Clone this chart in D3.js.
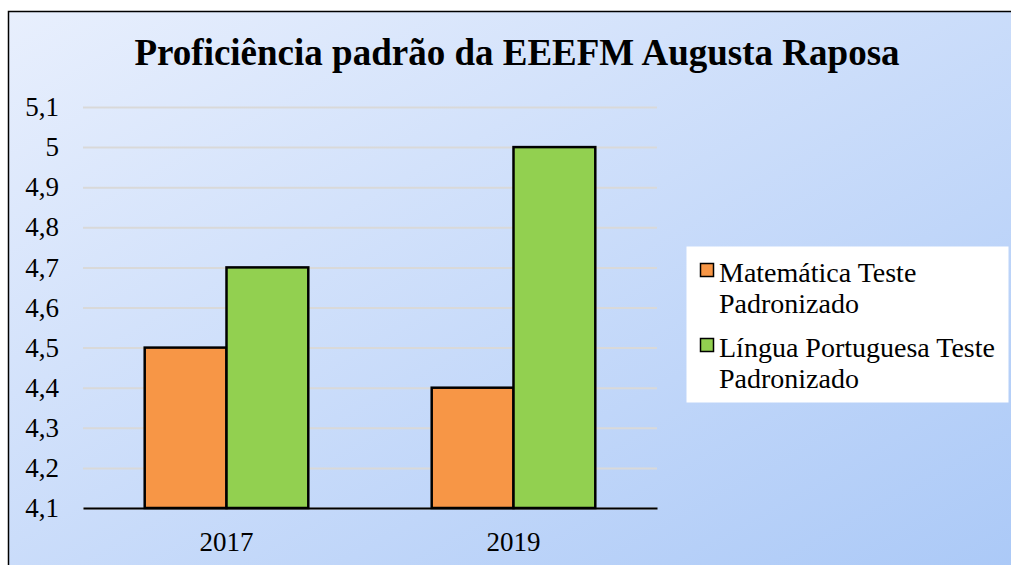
<!DOCTYPE html>
<html lang="pt">
<head>
    <meta charset="UTF-8">
    <title>Proficiência padrão</title>
    <script src="https://cdn.jsdelivr.net/npm/d3@7"></script>
    <style>
        body { margin: 0; }
        svg { display: block; }
        text { font-family: 'Liberation Serif', 'Times New Roman', serif; }
    </style>
</head>
<body>
<svg width="1011" height="565"></svg>
<script>
    // dados
    var anos = ["2017", "2019"];
    var series = ["Matemática Teste Padronizado", "Língua Portuguesa Teste Padronizado"];
    var matematica = [4.5, 4.4];
    var portugues = [4.7, 5.0];
    var yTicks = [4.1, 4.2, 4.3, 4.4, 4.5, 4.6, 4.7, 4.8, 4.9, 5.0, 5.1];
    var cores = ["#f79646", "#92d050"];

    var serif = "'Liberation Serif', 'Times New Roman', serif";
    var svg = d3.select("svg"), width = +svg.attr("width"), height = +svg.attr("height");

    // fundo com gradiente
    var grad = svg.append("defs").append("linearGradient")
        .attr("id", "bg").attr("x1", "0%").attr("y1", "0%").attr("x2", "100%").attr("y2", "100%");
    grad.append("stop").attr("offset", "0%").attr("stop-color", "#e8effd");
    grad.append("stop").attr("offset", "100%").attr("stop-color", "#abc9f7");

    svg.append("rect").attr("width", width).attr("height", height).attr("fill", "#fff");
    svg.append("rect")
        .attr("x", 8.5).attr("y", 11.5)
        .attr("width", 1010).attr("height", 560)
        .attr("fill", "url(#bg)")
        .attr("stroke", "#000").attr("stroke-width", 1.5);

    svg.append("text")
        .attr("x", 517).attr("y", 65)
        .attr("text-anchor", "middle")
        .style("font-size", "37px").style("font-weight", "bold").style("font-family", serif)
        .text("Proficiência padrão da EEEFM Augusta Raposa");

    var marge = {left: 83, right: 657, top: 107, bottom: 508};

    var x0 = d3.scaleBand().domain(anos).range([marge.left, marge.right]).paddingInner(0.43).paddingOuter(0.215);
    var x1 = d3.scaleBand().domain([0, 1]).range([0, x0.bandwidth()]);
    var y = d3.scaleLinear().domain([4.1, 5.1]).range([marge.bottom, marge.top]);

    var fmt = function (d) { return d3.format(".1~f")(d).replace(".", ","); };

    // grade
    var yAxis = d3.axisLeft(y).tickValues(yTicks).tickSize(-(marge.right - marge.left)).tickFormat(fmt).tickPadding(24);
    var gy = svg.append("g").attr("transform", "translate(" + marge.left + ",0)").call(yAxis);
    gy.select(".domain").remove();
    gy.selectAll(".tick line").attr("stroke", "#d9d9d9").attr("stroke-width", 2);
    gy.selectAll(".tick text").style("font-size", "27px").style("font-family", serif).attr("fill", "#000");

    var grupos = svg.append("g").selectAll("g")
        .data(anos).enter().append("g")
        .attr("transform", function (d) { return "translate(" + x0(d) + ",0)"; });

    grupos.selectAll("rect")
        .data(function (d, i) { return [matematica[i], portugues[i]]; })
        .enter().append("rect")
        .attr("x", function (d, j) { return x1(j); })
        .attr("y", function (d) { return y(d); })
        .attr("width", x1.bandwidth())
        .attr("height", function (d) { return y(4.1) - y(d); })
        .attr("fill", function (d, j) { return cores[j]; })
        .attr("stroke", "#000").attr("stroke-width", 2.5);

    // eixo x
    var xAxis = d3.axisBottom(x0).tickSize(0).tickPadding(23.5);
    var gx = svg.append("g").attr("transform", "translate(0," + marge.bottom + ")").call(xAxis);
    gx.select(".domain").attr("stroke", "#000").attr("stroke-width", 2);
    gx.selectAll(".tick text").style("font-size", "27px").style("font-family", serif).attr("fill", "#000");

    // legenda
    var leg = svg.append("g");
    leg.append("rect").attr("x", 686.5).attr("y", 246.5).attr("width", 322).attr("height", 156).attr("fill", "#fff");
    var linhas = [["Matemática Teste", "Padronizado"], ["Língua Portuguesa Teste", "Padronizado"]];
    linhas.forEach(function (l, i) {
        var yy = 282 + i * 75;
        leg.append("rect").attr("x", 700.5).attr("y", yy - 18.5).attr("width", 13).attr("height", 13)
            .attr("fill", cores[i]).attr("stroke", "#000").attr("stroke-width", 1.5);
        var t = leg.append("text").attr("x", 719).attr("y", yy)
            .style("font-size", "28px").style("font-family", serif);
        t.append("tspan").attr("x", 719).text(l[0]);
        t.append("tspan").attr("x", 719).attr("dy", 31).text(l[1]);
    });
</script>
</body>
</html>
